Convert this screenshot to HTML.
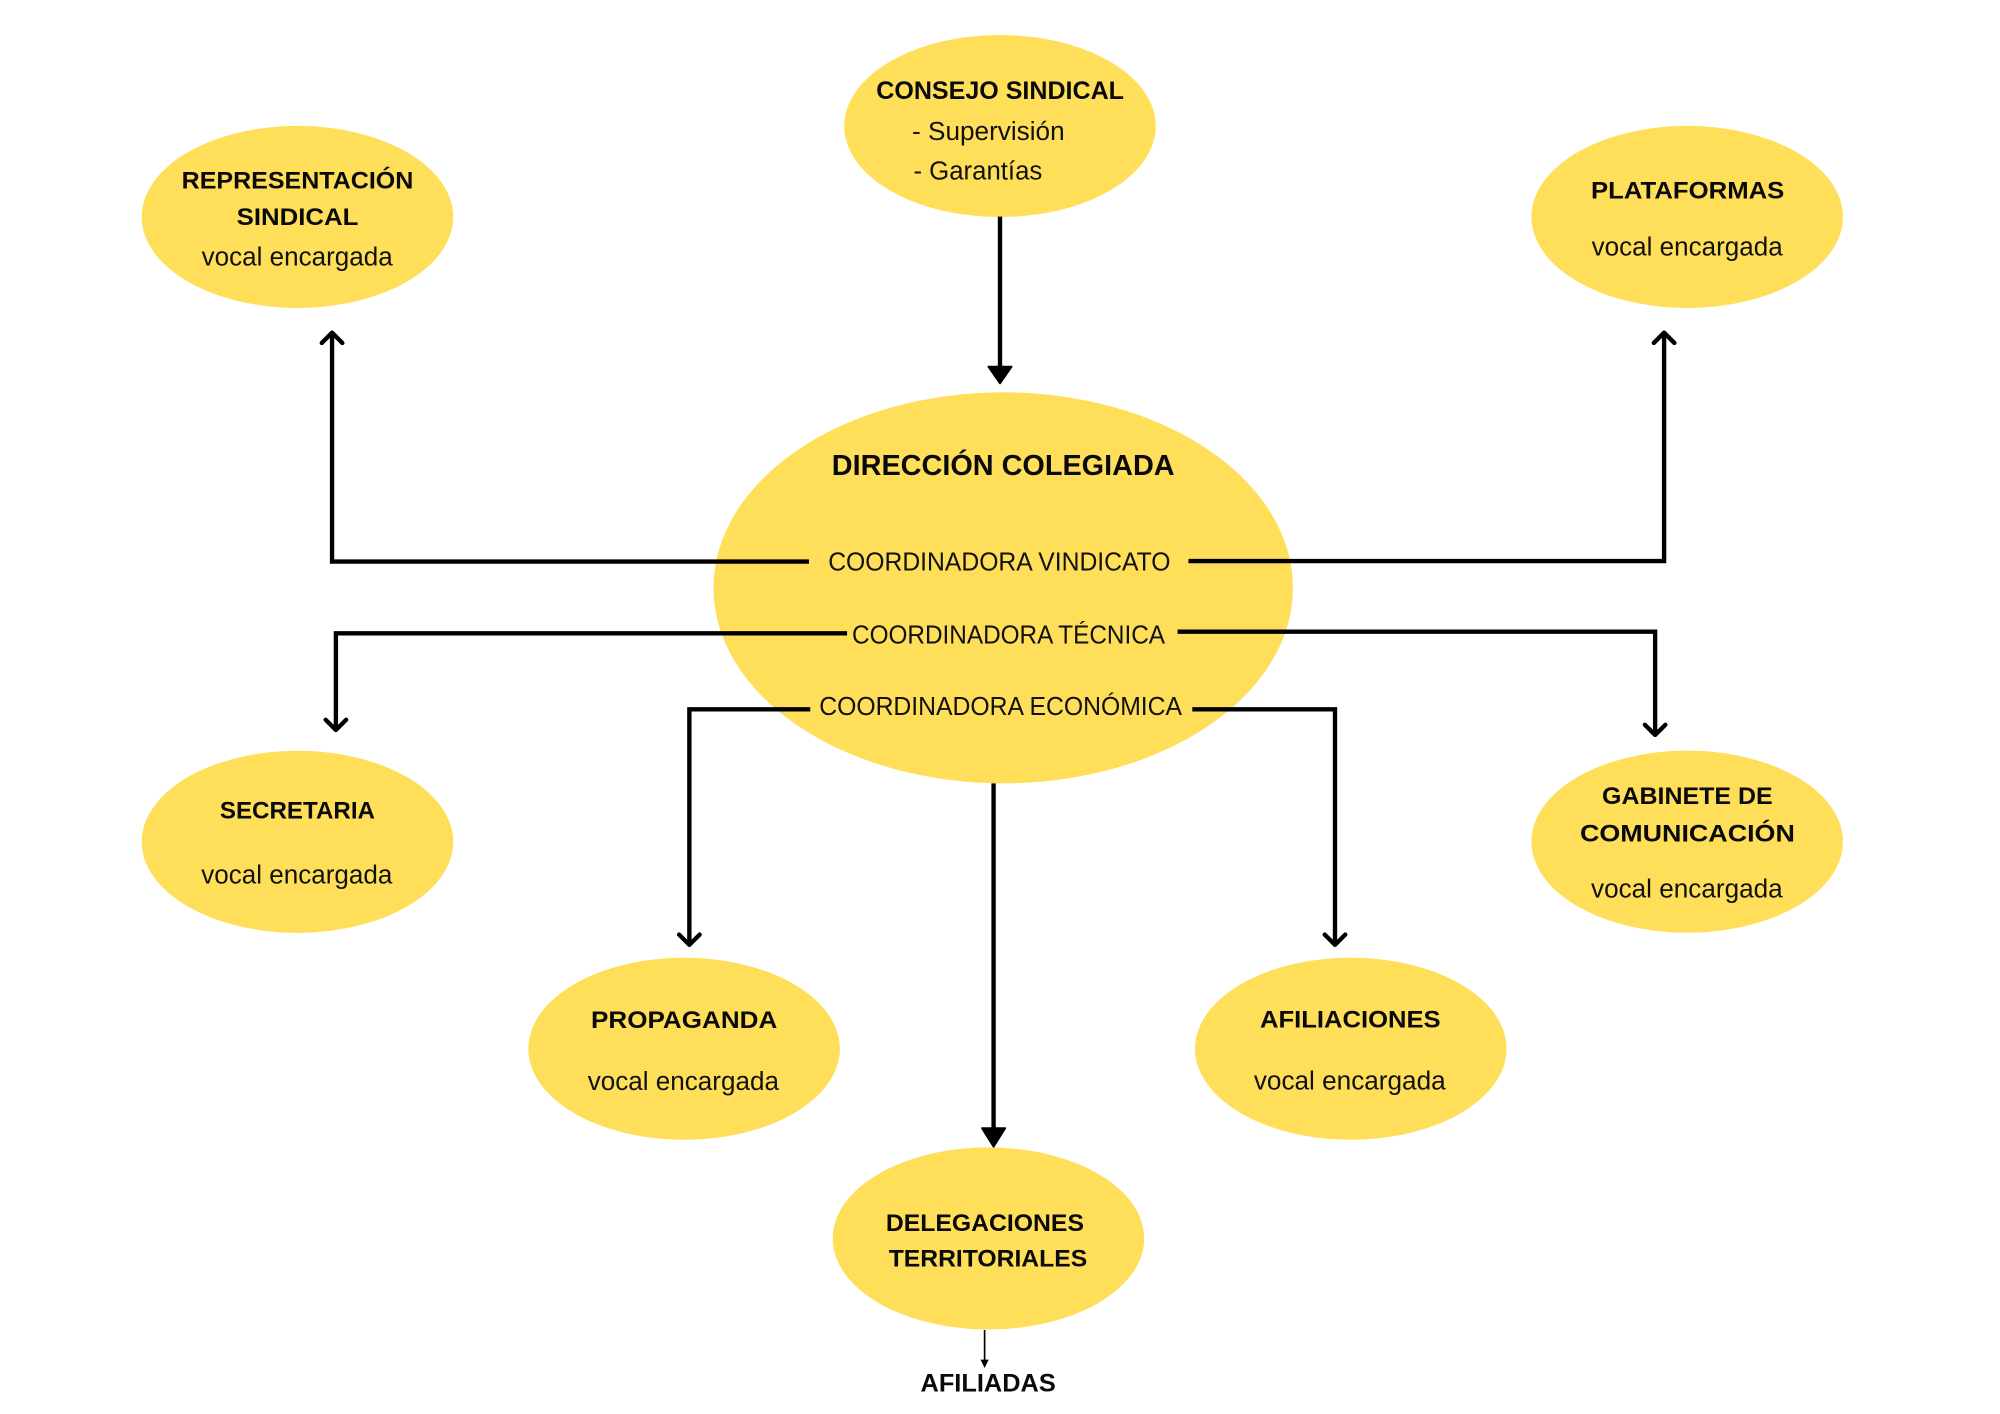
<!DOCTYPE html>
<html>
<head>
<meta charset="utf-8">
<style>
  html, body { margin: 0; padding: 0; background: #ffffff; }
  svg { display: block; }
  .b { font-family: "Liberation Sans", Arial, sans-serif; font-weight: 700; fill: #0a0a0a; }
  .r { font-family: "Liberation Sans", Arial, sans-serif; font-weight: 400; fill: #111111; }
</style>
</head>
<body>
<svg width="2000" height="1414" viewBox="0 0 1560 1102.92" preserveAspectRatio="none" xmlns="http://www.w3.org/2000/svg">
  <rect x="0" y="0" width="1560" height="1103" fill="#ffffff"/>

  <!-- Ellipses -->
  <g fill="#FFDE59">
    <ellipse cx="780" cy="98.3" rx="121.5" ry="71"/>
    <ellipse cx="232" cy="169.2" rx="121.5" ry="71"/>
    <ellipse cx="1316" cy="169.2" rx="121.5" ry="71"/>
    <ellipse cx="782.5" cy="458.5" rx="226" ry="152.5"/>
    <ellipse cx="232" cy="656.6" rx="121.5" ry="71"/>
    <ellipse cx="1316" cy="656.5" rx="121.5" ry="71"/>
    <ellipse cx="533.6" cy="818" rx="121.5" ry="71"/>
    <ellipse cx="1053.6" cy="818" rx="121.5" ry="71"/>
    <ellipse cx="771" cy="966" rx="121.5" ry="71"/>
  </g>

  <!-- Connectors -->
  <g stroke="#000" stroke-width="3.4" fill="none" stroke-linejoin="miter" stroke-linecap="butt">
    <!-- Consejo -> Direccion -->
    <path d="M780 169 V287"/>
    <!-- Vindicato left -> Representacion -->
    <path d="M631 438 H259 V261"/>
    <!-- Vindicato right -> Plataformas -->
    <path d="M927 437.6 H1298 V261"/>
    <!-- Tecnica left -> Secretaria -->
    <path d="M660.7 494 H262 V568"/>
    <!-- Tecnica right -> Gabinete -->
    <path d="M918.5 492.7 H1291 V572"/>
    <!-- Economica left -> Propaganda -->
    <path d="M632 553.3 H537.7 V736"/>
    <!-- Economica right -> Afiliaciones -->
    <path d="M930 553.3 H1041.3 V736"/>
    <!-- Direccion -> Delegaciones -->
    <path d="M775 611 V881"/>
  </g>

  <!-- Chevron arrowheads -->
  <g stroke="#000" stroke-width="3.4" fill="none" stroke-linejoin="round" stroke-linecap="round">
    <path d="M251 267.5 L259 259.5 L267 267.5"/>
    <path d="M1290 267.5 L1298 259.5 L1306 267.5"/>
    <path d="M254 561.4 L262 569.4 L270 561.4"/>
    <path d="M1283 565.3 L1291 573.3 L1299 565.3"/>
    <path d="M529.7 729 L537.7 737 L545.7 729"/>
    <path d="M1033.3 729 L1041.3 737 L1049.3 729"/>
  </g>

  <!-- Filled arrowheads -->
  <g fill="#000" stroke="#000" stroke-width="1.5" stroke-linejoin="round">
    <polygon points="771,286 789,286 780,299"/>
    <polygon points="766,880 784,880 775,894.4"/>
  </g>

  <!-- Delegaciones -> Afiliadas small arrow -->
  <path d="M768 1037.4 V1062" stroke="#000" stroke-width="1.3" fill="none"/>
  <polygon points="764.8,1060.5 771.2,1060.5 768,1067" fill="#000"/>

  <!-- Texts -->
  <text class="b" x="683.5" y="77.2" font-size="19.5" textLength="193.2" lengthAdjust="spacingAndGlyphs">CONSEJO SINDICAL</text>
  <text class="r" x="711.4" y="109.2" font-size="20" textLength="119" lengthAdjust="spacingAndGlyphs">- Supervisión</text>
  <text class="r" x="712.5" y="139.9" font-size="20" textLength="100.5" lengthAdjust="spacingAndGlyphs">- Garantías</text>

  <text class="b" x="141.7" y="146.9" font-size="19" textLength="180.7" lengthAdjust="spacingAndGlyphs">REPRESENTACIÓN</text>
  <text class="b" x="184.6" y="175.5" font-size="19" textLength="94.9" lengthAdjust="spacingAndGlyphs">SINDICAL</text>
  <text class="r" x="157.3" y="207.2" font-size="20" textLength="149" lengthAdjust="spacingAndGlyphs">vocal encargada</text>

  <text class="b" x="1241" y="154.7" font-size="19" textLength="150.8" lengthAdjust="spacingAndGlyphs">PLATAFORMAS</text>
  <text class="r" x="1241.5" y="199.4" font-size="20" textLength="149" lengthAdjust="spacingAndGlyphs">vocal encargada</text>

  <text class="b" x="648.8" y="370.6" font-size="22.5" textLength="267.4" lengthAdjust="spacingAndGlyphs">DIRECCIÓN COLEGIADA</text>
  <text class="r" x="646" y="445" font-size="20.5" textLength="267" lengthAdjust="spacingAndGlyphs">COORDINADORA VINDICATO</text>
  <text class="r" x="664.6" y="501.8" font-size="20.5" textLength="244.1" lengthAdjust="spacingAndGlyphs">COORDINADORA TÉCNICA</text>
  <text class="r" x="639" y="557.7" font-size="20.5" textLength="283" lengthAdjust="spacingAndGlyphs">COORDINADORA ECONÓMICA</text>

  <text class="b" x="171.5" y="638.3" font-size="19" textLength="121" lengthAdjust="spacingAndGlyphs">SECRETARIA</text>
  <text class="r" x="157" y="689" font-size="20" textLength="149" lengthAdjust="spacingAndGlyphs">vocal encargada</text>

  <text class="b" x="1249.6" y="627" font-size="19" textLength="133.1" lengthAdjust="spacingAndGlyphs">GABINETE DE</text>
  <text class="b" x="1232.4" y="656.5" font-size="19" textLength="167.6" lengthAdjust="spacingAndGlyphs">COMUNICACIÓN</text>
  <text class="r" x="1241" y="700" font-size="20" textLength="149.5" lengthAdjust="spacingAndGlyphs">vocal encargada</text>

  <text class="b" x="461" y="802" font-size="19" textLength="145.3" lengthAdjust="spacingAndGlyphs">PROPAGANDA</text>
  <text class="r" x="458.4" y="850.2" font-size="20" textLength="149.2" lengthAdjust="spacingAndGlyphs">vocal encargada</text>

  <text class="b" x="982.8" y="801.6" font-size="19" textLength="140.9" lengthAdjust="spacingAndGlyphs">AFILIACIONES</text>
  <text class="r" x="978" y="849.7" font-size="20" textLength="149.6" lengthAdjust="spacingAndGlyphs">vocal encargada</text>

  <text class="b" x="691" y="960" font-size="19" textLength="154.5" lengthAdjust="spacingAndGlyphs">DELEGACIONES</text>
  <text class="b" x="693.2" y="988" font-size="19" textLength="154.8" lengthAdjust="spacingAndGlyphs">TERRITORIALES</text>

  <text class="b" x="718" y="1085.5" font-size="19.5" textLength="105.5" lengthAdjust="spacingAndGlyphs">AFILIADAS</text>
</svg>
</body>
</html>
